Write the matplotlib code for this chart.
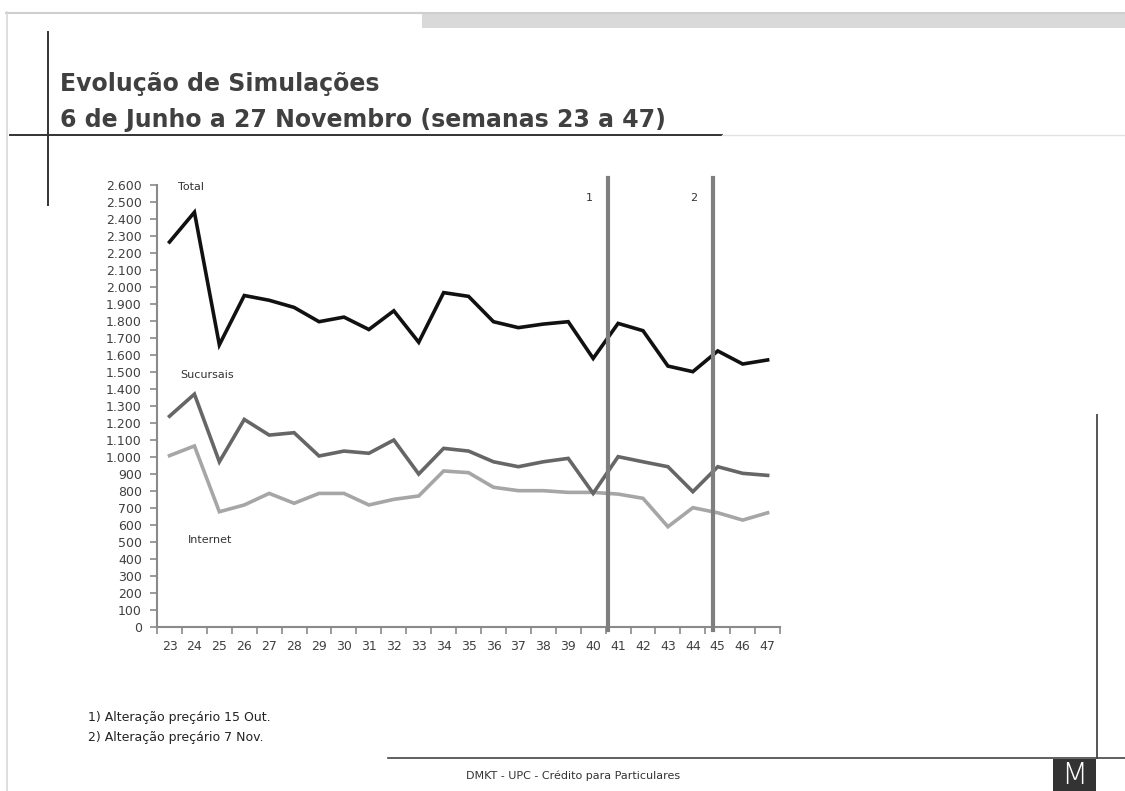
import matplotlib.pyplot as plt
import numpy as np
from matplotlib.patches import Rectangle
from matplotlib.ticker import FuncFormatter, FixedLocator

# ---- Data ---------------------------------------------------------------------
WEEKS = list(range(23, 48))
TOTAL = [2265, 2440, 1660, 1950, 1922, 1880, 1796, 1823, 1750, 1860, 1675, 1967,
         1945, 1796, 1761, 1782, 1796, 1580, 1786, 1743, 1535, 1502, 1624, 1547, 1571]
SUCURSAIS = [1240, 1370, 972, 1221, 1129, 1143, 1006, 1035, 1022, 1100, 900, 1051,
             1035, 972, 943, 972, 992, 786, 1002, 972, 943, 796, 943, 904, 892]
INTERNET = [1008, 1065, 678, 718, 786, 728, 786, 786, 718, 751, 771, 918,
            908, 822, 802, 802, 792, 792, 782, 757, 590, 702, 672, 629, 672]
# price-table changes, in week units
EVENTS = [40.6, 44.8]
EVENT_LABELS = ["1", "2"]

TXT = "#404040"
AXIS = "#8a8a8a"

fig = plt.figure(figsize=(11.25, 7.91), dpi=100)

# ---- Slide decoration (pixel coordinates) -------------------------------------
bg = fig.add_axes([0, 0, 1, 1], zorder=-1)
bg.set_xlim(0, 1125)
bg.set_ylim(791, 0)
bg.axis("off")
bg.plot([6, 1125], [12.5, 12.5], color="#cfcfcf", lw=1.5)
bg.plot([6.5, 6.5], [12, 791], color="#d8d8d8", lw=1.2)
bg.add_patch(Rectangle((422, 14), 703, 14, facecolor="#d9d9d9", edgecolor="none"))
bg.plot([48, 48], [32, 205], color="#333333", lw=1.4)
bg.plot([10, 722], [135, 135], color="#333333", lw=1.4)
bg.plot([722, 1125], [135, 135], color="#e2e2e2", lw=1.0)
bg.plot([1097, 1097], [415, 758], color="#555555", lw=1.4)
bg.plot([388, 1125], [758, 758], color="#444444", lw=1.2)
bg.add_patch(Rectangle((1053, 759), 43, 32, facecolor="#333333", edgecolor="none"))
bg.text(1074.5, 775, "M", color="white", fontsize=22, ha="center", va="center",
        family="DejaVu Sans", fontweight="light")

bg.text(60, 91, "Evolução de Simulações", fontsize=17, fontweight="bold",
        color=TXT, va="baseline")
bg.text(60, 127, "6 de Junho a 27 Novembro (semanas 23 a 47)", fontsize=17,
        fontweight="bold", color=TXT, va="baseline")

bg.text(88, 721, "1) Alteração preçário 15 Out.", fontsize=9, color="#222222",
        va="baseline")
bg.text(88, 741, "2) Alteração preçário 7 Nov.", fontsize=9, color="#222222",
        va="baseline")
bg.text(573, 779, "DMKT - UPC - Crédito para Particulares", fontsize=8,
        color="#333333", ha="center", va="baseline")

# ---- Chart ---------------------------------------------------------------------
ax = fig.add_axes([0.1396, 0.2073, 0.5538, 0.5588])
x = np.arange(len(WEEKS))
ax.plot(x, INTERNET, color="#a6a6a6", lw=2.6, solid_joinstyle="miter")
ax.plot(x, SUCURSAIS, color="#666666", lw=2.6, solid_joinstyle="miter")
ax.plot(x, TOTAL, color="#111111", lw=2.6, solid_joinstyle="miter")

for wk, lab in zip(EVENTS, EVENT_LABELS):
    xi = wk - WEEKS[0]
    ax.plot([xi, xi], [-20, 2640], color="#7f7f7f", lw=3, clip_on=False, zorder=4)
    ax.text(xi - 0.75, 2525, lab, fontsize=8, color="#333333", ha="center",
            va="center")

ax.text(0.34, 2590, "Total", fontsize=8, color="#333333", va="center")
ax.text(0.42, 1482, "Sucursais", fontsize=8, color="#333333", va="center")
ax.text(0.74, 512, "Internet", fontsize=8, color="#333333", va="center")

ax.set_xlim(-0.5, len(WEEKS) - 0.5)
ax.set_ylim(0, 2600)
ax.set_yticks(np.arange(0, 2601, 100))
ax.yaxis.set_major_formatter(FuncFormatter(lambda v, p: f"{int(v):,}".replace(",", ".")))
ax.xaxis.set_major_locator(FixedLocator(np.arange(-0.5, len(WEEKS), 1.0)))
ax.xaxis.set_minor_locator(FixedLocator(x))
ax.set_xticklabels([])
ax.set_xticks(x, [str(w) for w in WEEKS], minor=True)
ax.tick_params(axis="x", which="major", length=5, width=1.2, color=AXIS)
ax.tick_params(axis="x", which="minor", length=0, pad=9, labelsize=9, labelcolor=TXT)
ax.tick_params(axis="y", length=5, width=1.2, color=AXIS, labelsize=9,
               labelcolor=TXT, pad=6)
for side in ("top", "right"):
    ax.spines[side].set_visible(False)
for side in ("left", "bottom"):
    ax.spines[side].set_color(AXIS)
    ax.spines[side].set_linewidth(1.5)
ax.patch.set_alpha(0)

fig.savefig("out.png", dpi=100, facecolor="white")
